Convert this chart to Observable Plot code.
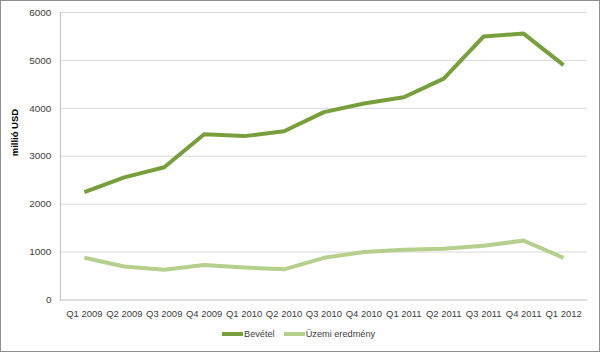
<!DOCTYPE html>
<html>
<head>
<meta charset="utf-8">
<script src="https://cdn.jsdelivr.net/npm/d3@7"></script>
<script src="https://cdn.jsdelivr.net/npm/@observablehq/plot@0.6"></script>
<style>
  html, body { margin: 0; padding: 0; background: #fff; }
  #wrap { position: relative; width: 600px; height: 352px; box-sizing: border-box; border: 1px solid #8e8e8e; overflow: hidden; background: #fff; }
  #chart { position: absolute; left: -1px; top: -1px; }
  #legend { position: absolute; top: 328px; left: 221px; font: 9.2px "Liberation Sans", Arial, sans-serif; color: #404040; display: flex; align-items: center; }
  #legend .item { display: flex; align-items: center; margin-right: 9px; }
  #legend .sw { width: 21px; height: 4px; margin-right: 1px; }
</style>
</head>
<body>
<div id="wrap"><div id="chart"></div><div id="legend"></div></div>
<script>
const quarters = ["Q1 2009","Q2 2009","Q3 2009","Q4 2009","Q1 2010","Q2 2010","Q3 2010","Q4 2010","Q1 2011","Q2 2011","Q3 2011","Q4 2011","Q1 2012"];
const bevetel = [2250, 2560, 2770, 3460, 3420, 3520, 3920, 4100, 4230, 4620, 5500, 5560, 4900];
const uzemi = [880, 700, 630, 730, 680, 640, 880, 1000, 1050, 1070, 1130, 1240, 880];
const seriesNames = ["Bevétel", "Üzemi eredmény"];
const seriesColors = ["#77a03c", "#b5d08c"];
const yTicks = [0, 1000, 2000, 3000, 4000, 5000, 6000];

const rows = [];
quarters.forEach((q, i) => {
  rows.push({q, v: bevetel[i], s: seriesNames[0]});
  rows.push({q, v: uzemi[i], s: seriesNames[1]});
});

const font = '"Liberation Sans", Arial, sans-serif';
const plot = Plot.plot({
  width: 600,
  height: 322,
  marginLeft: 60,
  marginRight: 12,
  marginTop: 12,
  marginBottom: 22,
  style: { fontFamily: font, fontSize: "9.5px", color: "#404040", background: "transparent" },
  x: { type: "point", domain: quarters, padding: 0.5, label: null },
  y: { domain: [0, 6000], ticks: yTicks, label: null },
  color: { domain: seriesNames, range: seriesColors },
  marks: [
    Plot.ruleY(yTicks.filter(d => d > 0), { stroke: "#d9d9d9", strokeWidth: 1 }),
    Plot.ruleY([0], { stroke: "#bfbfbf", strokeWidth: 1 }),
    Plot.frame({ anchor: "left", stroke: "#bfbfbf" }),
    Plot.axisY({ ticks: yTicks, tickSize: 0, tickPadding: 9, fontSize: "10px", tickFormat: d => String(d), label: null }),
    Plot.axisX({ tickSize: 0, tickPadding: 10, fontSize: "9.5px", label: null }),
    Plot.line(rows, { x: "q", y: "v", z: "s", stroke: "s", strokeWidth: 4, strokeLinejoin: "round", strokeLinecap: "butt" }),
    Plot.text(["millió USD"], { frameAnchor: "left", dx: -46, rotate: -90, fontWeight: "bold", fontSize: 9.5, fill: "#000" })
  ]
});
document.getElementById("chart").appendChild(plot);

const legend = document.getElementById("legend");
seriesNames.forEach((n, i) => {
  const it = document.createElement("div");
  it.className = "item";
  const sw = document.createElement("div");
  sw.className = "sw";
  sw.style.background = seriesColors[i];
  const t = document.createElement("span");
  t.textContent = n;
  it.appendChild(sw); it.appendChild(t);
  legend.appendChild(it);
});
</script>
</body>
</html>
